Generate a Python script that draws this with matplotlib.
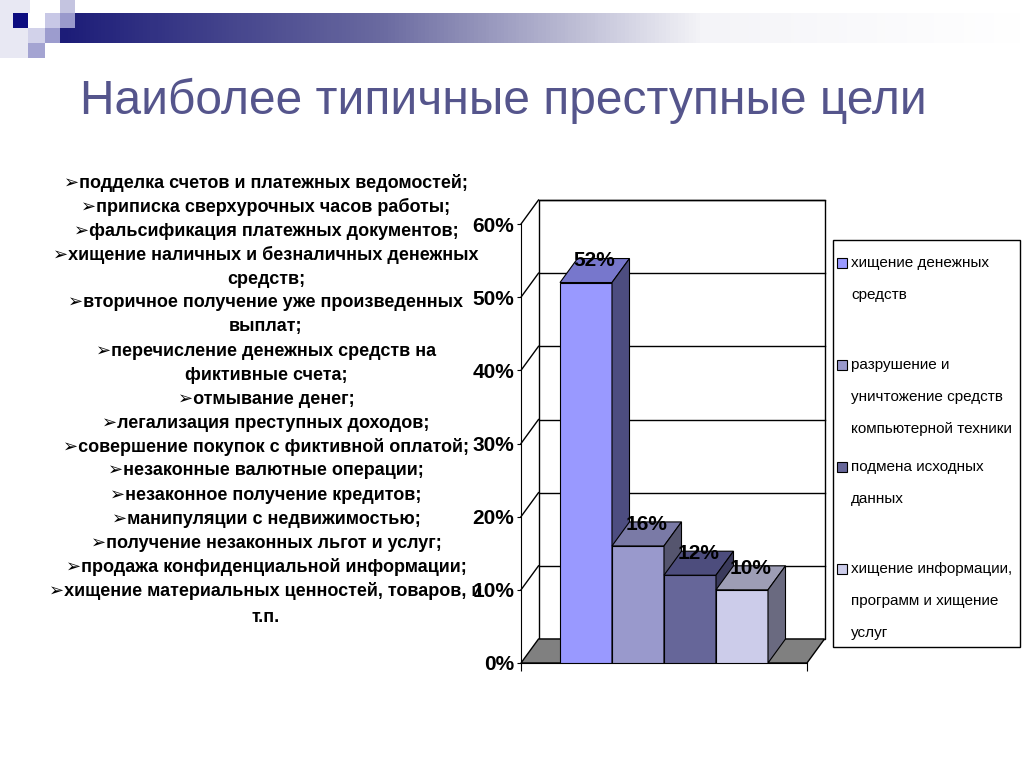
import matplotlib
matplotlib.use('Agg')
import matplotlib.pyplot as plt
from matplotlib.patches import Rectangle, Polygon
from matplotlib.colors import LinearSegmentedColormap
import numpy as np

title = 'Наиболее типичные преступные цели'

items = [
    '➢подделка счетов и платежных ведомостей;',
    '➢приписка сверхурочных часов работы;',
    '➢фальсификация платежных документов;',
    '➢хищение наличных и безналичных денежных\nсредств;',
    '➢вторичное получение уже произведенных\nвыплат;',
    '➢перечисление денежных средств на\nфиктивные счета;',
    '➢отмывание денег;',
    '➢легализация преступных доходов;',
    '➢совершение покупок с фиктивной оплатой;',
    '➢незаконные валютные операции;',
    '➢незаконное получение кредитов;',
    '➢манипуляции с недвижимостью;',
    '➢получение незаконных льгот и услуг;',
    '➢продажа конфиденциальной информации;',
    '➢хищение материальных ценностей, товаров, и\nт.п.',
]

series = ['хищение денежных\nсредств',
          'разрушение и\nуничтожение средств\nкомпьютерной техники',
          'подмена исходных\nданных',
          'хищение информации,\nпрограмм и хищение\nуслуг']
values = [52, 16, 12, 10]
yticks = [0, 10, 20, 30, 40, 50, 60]

front_c = ['#9999ff', '#9999cc', '#666699', '#ccccea']
top_c = ['#7777cc', '#7a7aa6', '#4d4d7d', '#9d9db5']
side_c = ['#4d4d80', '#55556e', '#3a3a5c', '#6a6a80']

W, H = 1024, 767
fig = plt.figure(figsize=(W / 100, H / 100), dpi=100)
fig.patch.set_facecolor('white')

arial = ['Liberation Sans', 'DejaVu Sans']


def fx(px):
    return px / W


def fy(py):
    return 1 - py / H


# decoration at the top
band = fig.add_axes([fx(60), fy(43), fx(W - 60), (43 - 13) / H])
grad = np.linspace(0, 1, 256).reshape(1, -1)
cm = LinearSegmentedColormap.from_list('b', ['#1c1c78', '#6a6aa0', '#f4f4f8', '#ffffff'])
band.imshow(grad, aspect='auto', cmap=cm)
band.axis('off')

squares = [((0, 0, 30, 58), '#e8e8f3'), ((13, 13, 15, 15), '#0c0c80'),
           ((28, 13, 17, 15), '#ffffff'),
           ((45, 13, 15, 15), '#c8c8e6'), ((60, 0, 15, 13), '#c4c4e0'),
           ((60, 13, 15, 15), '#9a9acc'), ((28, 28, 17, 15), '#d2d2ea'),
           ((45, 28, 15, 15), '#9c9cce'), ((28, 43, 17, 15), '#a4a4d2')]
for (x, y, w, h), c in squares:
    fig.add_artist(Rectangle((fx(x), fy(y + h)), fx(w), h / H,
                             transform=fig.transFigure, color=c, lw=0))

fig.text(fx(80), fy(101), title, fontsize=34.5, color='#55558c',
         family=arial, va='center', ha='left')

# bullet list
lines = '\n'.join(items).split('\n')
for i, s in enumerate(lines):
    yy = 183 + i * 24 + (3 if i == len(lines) - 1 else 0)
    fig.text(fx(266), fy(yy), s, fontsize=13, fontweight='bold',
             family=arial, ha='center', va='center', zorder=5)

# chart
ax = fig.add_axes([fx(521), fy(663), fx(807 - 521), (663 - 224) / H])
xmin, xmax = -1.25, len(values) - 1 + 1.25
ax.set_xlim(xmin, xmax)
ax.set_ylim(0, 60)
fig.canvas.draw()
p0 = ax.transData.transform((0, 0))
ddx, ddy = ax.transData.inverted().transform(p0 + np.array([17.5, 24]))
top = yticks[-1]

ax.add_patch(Polygon([(xmin + ddx, ddy), (xmax + ddx, ddy), (xmax + ddx, top + ddy),
                      (xmin + ddx, top + ddy)], closed=True, fc='white', ec='black',
                     lw=1, clip_on=False, zorder=0))
for t in yticks[1:]:
    ax.plot([xmin + ddx, xmax + ddx], [t + ddy, t + ddy], color='black', lw=1,
            clip_on=False, zorder=0.5)
    ax.plot([xmin, xmin + ddx], [t, t + ddy], color='black', lw=1,
            clip_on=False, zorder=0.5)
ax.add_patch(Polygon([(xmin, 0), (xmax, 0), (xmax + ddx, ddy), (xmin + ddx, ddy)],
                     closed=True, fc='#808080', ec='black', lw=1, clip_on=False, zorder=1))

for i, v in enumerate(values):
    z = 3 + i
    x0, x1 = i - 0.5, i + 0.5
    ax.bar(i, v, width=1, color=front_c[i], edgecolor='black', lw=0.8, zorder=z)
    ax.add_patch(Polygon([(x0, v), (x1, v), (x1 + ddx, v + ddy), (x0 + ddx, v + ddy)],
                         closed=True, fc=top_c[i], ec='black', lw=0.8,
                         clip_on=False, zorder=z))
    ax.add_patch(Polygon([(x1, 0), (x1 + ddx, ddy), (x1 + ddx, v + ddy), (x1, v)],
                         closed=True, fc=side_c[i], ec='black', lw=0.8,
                         clip_on=False, zorder=z))
    ax.text(i + ddx / 2, v + ddy * 0.9, f'{v}%', ha='center', va='center',
            fontsize=15, fontweight='bold', family=arial, zorder=10)

ax.set_facecolor('none')
for s in ['top', 'right']:
    ax.spines[s].set_visible(False)
ax.spines['left'].set_zorder(2)
ax.set_yticks(yticks)
ax.set_yticklabels([f'{t}%' for t in yticks], fontsize=15, fontweight='bold',
                   family=arial)
ax.tick_params(axis='y', length=3, pad=2)
ax.set_xticks([xmin, xmax])
ax.set_xticklabels([])
ax.tick_params(axis='x', length=6)

# legend
fig.add_artist(Rectangle((fx(833), fy(647)), fx(1020 - 833), (647 - 240) / H,
                         transform=fig.transFigure, fc='white', ec='black', lw=1))
for i, lab in enumerate(series):
    y0 = 263 + i * 102
    fig.add_artist(Rectangle((fx(837), fy(y0 + 5)), fx(10), 10 / H,
                             transform=fig.transFigure, fc=front_c[i], ec='black', lw=0.8))
    for j, s in enumerate(lab.split('\n')):
        fig.text(fx(851), fy(y0 + j * 32), s, fontsize=11, ha='left', va='center',
                 family=arial)

fig.savefig('out.png', dpi=100)
